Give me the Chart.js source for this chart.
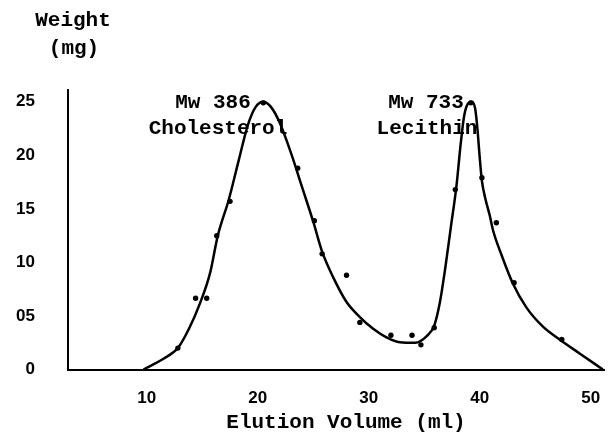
<!DOCTYPE html>
<html>
<head>
<meta charset="utf-8">
<script src="https://cdn.jsdelivr.net/npm/chart.js@4"></script>
<style>
  body { margin: 0; background: #fff; }
</style>
</head>
<body>
<canvas id="elution" width="608" height="433"></canvas>
<script>
// smooth fitted curve (elution volume ml, weight mg)
const curveVol = [9.7, 11.5, 12.8, 13.8, 14.8, 15.7, 16.4, 17.4, 18.3, 19.1, 19.8, 20.5, 21.2, 22.0, 23.0, 24.0, 25.0, 25.8, 26.8, 28.0, 29.2, 30.4, 31.6, 32.8, 34.2, 35.2, 35.9, 36.4, 36.9, 37.4, 37.9, 38.3, 38.6, 39.0, 39.3, 39.6, 39.8, 40.0, 40.2, 40.5, 40.9, 41.2, 42.0, 43.0, 44.2, 45.7, 47.2, 49.0, 51.1];
const curveWt  = [0, 1.0, 2.0, 3.8, 6.2, 9.0, 12.5, 15.9, 19.6, 22.8, 24.5, 25.0, 24.5, 23.0, 20.2, 17.0, 13.8, 11.0, 8.6, 6.3, 4.9, 3.8, 3.0, 2.55, 2.5, 3.1, 4.1, 6.2, 9.5, 13.3, 17.1, 21.2, 23.7, 24.9, 25.0, 24.3, 22.4, 19.8, 17.6, 16.0, 14.4, 13.0, 10.6, 8.0, 5.8, 4.0, 2.8, 1.5, 0];

// measured points
const dotVol = [12.8, 14.4, 15.4, 16.3, 17.5, 20.5, 23.6, 25.1, 25.8, 28.0, 29.2, 32.0, 33.9, 34.7, 35.9, 37.8, 39.2, 40.2, 41.5, 43.1, 47.4];
const dotWt  = [2.0, 6.65, 6.65, 12.5, 15.7, 24.9, 18.8, 13.9, 10.8, 8.8, 4.4, 3.2, 3.2, 2.3, 3.9, 16.8, 24.9, 17.9, 13.7, 8.1, 2.8];

const xTicks = [10, 20, 30, 40, 50];
const yTicks = [0, 5, 10, 15, 20, 25];
const yTickLabels = ['0', '05', '10', '15', '20', '25'];

const mono = '"Liberation Mono", "DejaVu Sans Mono", monospace';
const sans = '"Liberation Sans", Arial, sans-serif';

// axis titles and peak labels
const textPlugin = {
    id: 'texts',
    afterDraw(chart) {
        const c = chart.ctx;
        c.save();
        c.fillStyle = '#000';
        c.textAlign = 'center';
        c.textBaseline = 'middle';
        c.font = 'bold 21px ' + mono;
        c.fillText('Weight', 73, 21);
        c.fillText('(mg)', 74, 49);
        c.fillText('Mw 386', 213, 103);
        c.fillText('Cholesterol', 218, 129);
        c.fillText('Mw 733', 426, 103);
        c.fillText('Lecithin', 427, 129);
        c.fillText('Elution Volume (ml)', 346, 423);
        c.restore();
    }
};

new Chart(document.getElementById('elution').getContext('2d'), {
    type: 'scatter',
    data: {
        datasets: [{
            data: curveVol.map((v, i) => ({ x: v, y: curveWt[i] })),
            showLine: true,
            borderColor: '#000',
            borderWidth: 2.5,
            pointRadius: 0,
            cubicInterpolationMode: 'monotone'
        }, {
            data: dotVol.map((v, i) => ({ x: v, y: dotWt[i] })),
            showLine: false,
            pointRadius: 2.7,
            pointBackgroundColor: '#000',
            pointBorderColor: '#000',
            pointBorderWidth: 0
        }]
    },
    options: {
        responsive: false,
        animation: false,
        layout: { padding: { top: 90, right: 3, left: 0, bottom: 0 } },
        plugins: { legend: { display: false }, tooltip: { enabled: false } },
        scales: {
            x: {
                type: 'linear',
                min: 2.9,
                max: 51.2,
                afterBuildTicks: s => { s.ticks = xTicks.map(v => ({ value: v })); },
                afterFit: s => { s.height = 63.5; s.paddingLeft = 0; s.paddingRight = 0; },
                grid: { display: false, drawTicks: false },
                border: { display: true, color: '#000', width: 2 },
                ticks: {
                    color: '#000',
                    padding: 19,
                    maxRotation: 0,
                    font: { family: sans, size: 17, weight: 'bold' }
                }
            },
            y: {
                min: 0,
                max: 26.1,
                afterBuildTicks: s => { s.ticks = yTicks.map(v => ({ value: v })); },
                afterFit: s => { s.width = 68; s.paddingTop = 0; s.paddingBottom = 0; },
                grid: { display: false, drawTicks: false },
                border: { display: true, color: '#000', width: 2 },
                ticks: {
                    color: '#000',
                    padding: 33,
                    font: { family: sans, size: 17, weight: 'bold' },
                    callback: (v) => yTickLabels[yTicks.indexOf(v)]
                }
            }
        }
    },
    plugins: [textPlugin]
});
</script>
</body>
</html>
